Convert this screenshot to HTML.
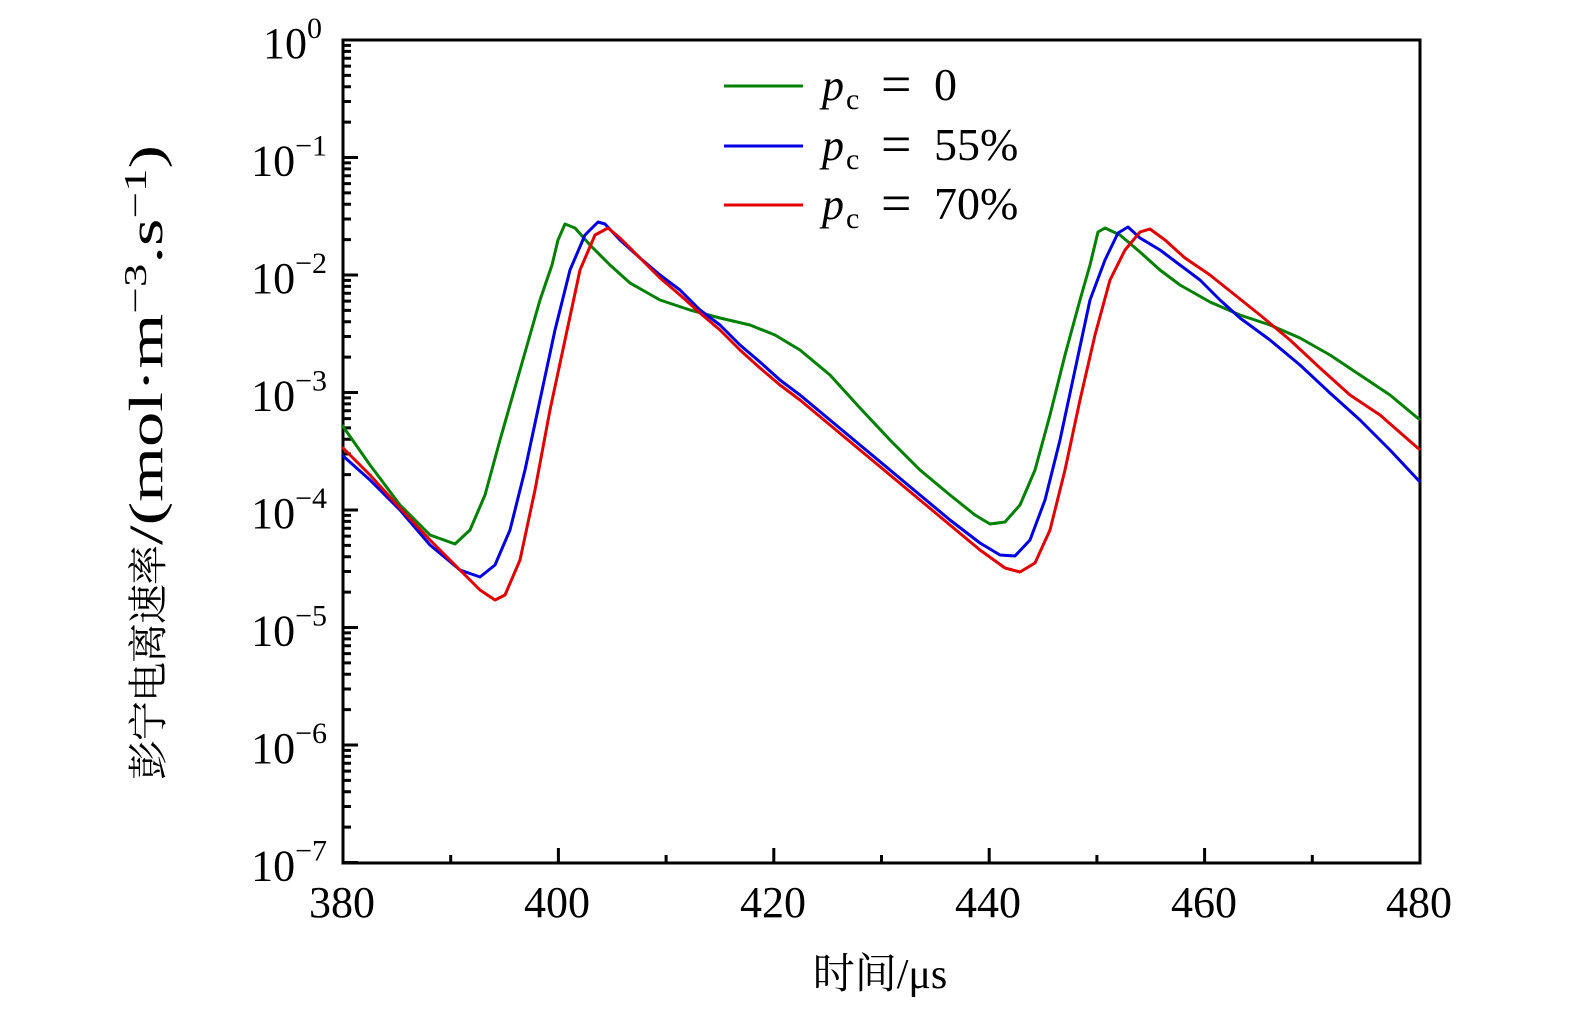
<!DOCTYPE html>
<html><head><meta charset="utf-8"><style>
html,body{margin:0;padding:0;background:#fff;overflow:hidden;width:1575px;height:1014px;}
svg{display:block;}
svg text{font-family:"Liberation Serif","Noto Serif CJK SC",serif;fill:#000;}
</style></head><body>
<svg id="s" width="1575" height="1014" viewBox="0 0 1575 1014" xmlns="http://www.w3.org/2000/svg">
<g id="ticks" stroke="#000" stroke-width="3"></g>
<rect x="343" y="40" width="1077" height="823" fill="none" stroke="#000" stroke-width="3"/>
<g font-size="44" text-anchor="middle">
<text x="342" y="917">380</text><text x="557" y="917">400</text><text x="773" y="917">420</text><text x="988" y="917">440</text><text x="1204" y="917">460</text><text x="1419" y="917">480</text>
</g>
<g id="yl" font-size="44" text-anchor="end"></g>
<text x="880" y="988" font-size="42" text-anchor="middle">时间/μs</text>
<g transform="translate(162,0) rotate(-90)">
<text x="-780" y="0" font-size="40" textLength="235" lengthAdjust="spacing">彭宁电离速率</text>
<text x="-545" y="0" font-size="48" textLength="400" lengthAdjust="spacingAndGlyphs">/(mol·m<tspan dy="-16" font-size="32">−3</tspan><tspan dy="16">.s</tspan><tspan dy="-16" font-size="32">−1</tspan><tspan dy="16">)</tspan></text>
</g>
<g stroke-width="3" fill="none" stroke-linejoin="round">
<line x1="724" y1="86" x2="803" y2="86" stroke="#008000"/>
<line x1="724" y1="146" x2="803" y2="146" stroke="#0000e0"/>
<line x1="724" y1="205" x2="803" y2="205" stroke="#e00000"/>
<polyline stroke="#008000" points="342,425 370,465 400,505 430,535 455,544 470,530 485,495 500,440 520,370 540,300 552,265 558,240 565,224 575,228 590,245 610,265 630,283 660,300 690,310 720,318 750,325 775,335 800,350 830,375 860,408 890,440 920,470 950,495 975,515 990,524 1005,522 1020,505 1035,470 1050,415 1065,355 1080,300 1090,265 1098,232 1105,228 1120,235 1140,252 1160,270 1180,285 1210,302 1240,315 1270,325 1300,338 1330,355 1360,375 1390,395 1420,420"/>
<polyline stroke="#0000e0" points="342,455 370,480 400,510 430,545 460,570 480,577 495,565 510,530 525,470 540,400 555,330 570,270 585,235 598,222 605,224 620,240 640,258 660,275 680,290 700,310 720,325 740,345 760,362 780,380 800,395 830,420 860,445 890,470 920,495 950,520 980,543 1000,555 1015,556 1030,540 1045,500 1060,440 1075,370 1090,300 1105,260 1118,233 1128,227 1140,238 1160,250 1180,265 1200,280 1220,300 1240,318 1270,340 1300,365 1330,393 1360,420 1390,450 1420,482"/>
<polyline stroke="#e00000" points="342,447 370,475 400,508 430,540 460,570 480,590 495,600 505,595 520,560 535,490 550,410 565,340 580,270 595,235 608,228 620,238 640,258 660,278 680,295 700,313 720,330 740,350 760,368 780,385 800,400 830,425 860,450 890,475 920,500 950,525 980,550 1005,568 1020,572 1035,563 1050,530 1065,470 1080,400 1095,335 1110,280 1125,250 1140,232 1150,229 1165,240 1185,258 1210,275 1235,295 1260,315 1290,340 1320,368 1350,395 1380,415 1420,450"/>
</g>
<g font-size="44">
<text x="822" y="100" font-style="italic">p</text><text x="846" y="109" font-size="30">c</text><text x="881" y="102" font-size="54">=</text><text x="934" y="100" font-size="46">0</text>
<text x="822" y="160" font-style="italic">p</text><text x="846" y="169" font-size="30">c</text><text x="881" y="162" font-size="54">=</text><text x="934" y="160" font-size="46">55%</text>
<text x="822" y="219" font-style="italic">p</text><text x="846" y="228" font-size="30">c</text><text x="881" y="221" font-size="54">=</text><text x="934" y="219" font-size="46">70%</text>
</g>
</svg>
<script>
var t=document.getElementById('ticks'),yl=document.getElementById('yl'),ns='http://www.w3.org/2000/svg',s='';
var D=117.5,L=[.301,.477,.602,.699,.778,.845,.903,.954];
for(var n=0;n<=7;n++){var y=40+n*D;s+='M343 '+y+'h15';
 if(n<7)for(var k=0;k<8;k++){var yy=y+(1-L[k])*D;s+='M343 '+yy.toFixed(1)+'h8';}
 var tx=document.createElementNS(ns,'text');tx.setAttribute('x',n==0?322:327);tx.setAttribute('y',y+18);
 tx.innerHTML='10<tspan dy="-20" font-size="30">'+(n==0?'0':'−'+n)+'</tspan>';yl.appendChild(tx);}
for(var x=380;x<=480;x+=10){var px=343+(x-380)*10.77;s+='M'+px.toFixed(1)+' 863v'+(x%20==0?-15:-8);}
var p=document.createElementNS(ns,'path');p.setAttribute('d',s);t.appendChild(p);
</script>
</body></html>
